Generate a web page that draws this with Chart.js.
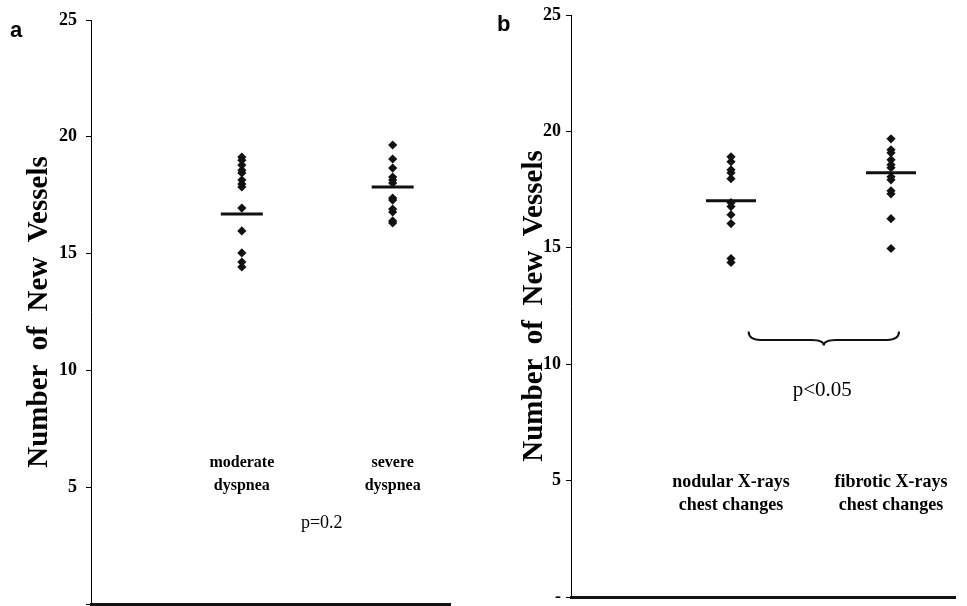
<!DOCTYPE html>
<html>
<head>
<meta charset="utf-8">
<script src="https://cdn.jsdelivr.net/npm/chart.js@4.4.1/dist/chart.umd.min.js"></script>
<style>
  html, body { margin: 0; padding: 0; background: #fff; }
  #wrap { position: relative; width: 967px; height: 606px; overflow: hidden; }
  .panel { position: absolute; top: 0; }
  #panelA { left: 0; }
  #panelB { left: 483px; }
  .tag { position: absolute; font: bold 22px "Liberation Sans", Arial, sans-serif; color: #000; line-height: 1; }
</style>
</head>
<body>
<div id="wrap">
  <div class="panel" id="panelA"><canvas id="chartA" width="483" height="606"></canvas></div>
  <div class="panel" id="panelB"><canvas id="chartB" width="484" height="606"></canvas></div>
  <div class="tag" style="left:10px;top:19px">a</div>
  <div class="tag" style="left:497px;top:13px">b</div>
</div>
<script>
// values
const panelACategories = [['moderate', 'dyspnea'], ['severe', 'dyspnea']];
const moderateDyspnea = [19.13, 19.0, 18.79, 18.57, 18.45, 18.15, 17.98, 17.85, 16.95, 15.97, 15.03, 14.64, 14.43];
const severeDyspnea = [19.65, 19.05, 18.66, 18.28, 18.15, 18.02, 17.38, 17.29, 16.91, 16.78, 16.4, 16.31];
const panelAMeans = [16.7, 17.85];

const panelBCategories = [['nodular X-rays', 'chest changes'], ['fibrotic X-rays', 'chest changes']];
const nodularChanges = [18.91, 18.7, 18.35, 18.22, 17.97, 16.94, 16.77, 16.42, 16.04, 14.54, 14.37];
const fibroticChanges = [19.68, 19.21, 19.08, 18.78, 18.57, 18.44, 18.05, 17.92, 17.45, 17.32, 16.25, 14.97];
const panelBMeans = [17.02, 18.22];

const yTicks = [0, 5, 10, 15, 20, 25];
const yTitle = 'Number  of  New  Vessels';
const panelAPValue = 'p=0.2';
const panelBPValue = 'p<0.05';

const SERIF = '"Liberation Serif", "Times New Roman", serif';

// category labels, p-value text and the brace, placed through the chart scales
const notesPlugin = {
  id: 'notes',
  afterDatasetsDraw(chart, args, opts) {
    const { ctx, scales: { x, y } } = chart;
    ctx.save();
    ctx.fillStyle = '#000';
    ctx.textAlign = 'center';
    ctx.textBaseline = 'middle';
    ctx.font = opts.labelFont;
    opts.categories.forEach((lines, i) => {
      lines.forEach((line, j) => {
        ctx.fillText(line, x.getPixelForValue(i + 1), y.getPixelForValue(opts.labelAt) + j * opts.lineGap);
      });
    });
    ctx.font = opts.pFont;
    ctx.fillText(opts.pText, x.getPixelForValue(opts.pAt[0]), y.getPixelForValue(opts.pAt[1]));

    if (opts.brace) {
      const x0 = x.getPixelForValue(opts.brace.from);
      const x1 = x.getPixelForValue(opts.brace.to);
      const xc = (x0 + x1) / 2;
      const top = y.getPixelForValue(opts.brace.at);
      const h = opts.brace.depth;
      const r = 12;
      ctx.strokeStyle = '#111';
      ctx.lineWidth = 2;
      ctx.beginPath();
      ctx.moveTo(x0, top);
      ctx.quadraticCurveTo(x0, top + h * 0.6, x0 + r, top + h * 0.6);
      ctx.lineTo(xc - r, top + h * 0.6);
      ctx.quadraticCurveTo(xc, top + h * 0.6, xc, top + h);
      ctx.quadraticCurveTo(xc, top + h * 0.6, xc + r, top + h * 0.6);
      ctx.lineTo(x1 - r, top + h * 0.6);
      ctx.quadraticCurveTo(x1, top + h * 0.6, x1, top);
      ctx.stroke();
    }
    ctx.restore();
  }
};

function makeChart(id, groups, means, cfg) {
  const points = [];
  groups.forEach((vals, i) => vals.forEach(v => points.push({ x: i + 1, y: v })));
  return new Chart(document.getElementById(id), {
    type: 'scatter',
    data: {
      datasets: [
        {
          data: points,
          pointStyle: 'rectRot',
          radius: 4.6,
          backgroundColor: '#111',
          borderWidth: 0
        },
        {
          data: means.map((m, i) => ({ x: i + 1, y: m })),
          pointStyle: 'line',
          radius: cfg.meanHalf,
          borderColor: '#111',
          borderWidth: 3
        }
      ]
    },
    options: {
      responsive: false,
      animation: false,
      events: [],
      layout: { padding: cfg.padding, autoPadding: false },
      plugins: {
        legend: { display: false },
        tooltip: { enabled: false },
        notes: cfg.notes
      },
      scales: {
        x: {
          type: 'linear',
          min: 0,
          max: cfg.xMax,
          ticks: { display: false },
          grid: { display: false, drawTicks: false },
          border: { display: true, color: '#111', width: 3 },
          afterFit: s => { s.height = 0; s.paddingLeft = 0; s.paddingRight = 0; }
        },
        y: {
          min: 0,
          max: 25,
          afterBuildTicks: s => { s.ticks = yTicks.map(v => ({ value: v })); },
          ticks: {
            color: '#000',
            padding: cfg.tickPad,
            font: { family: SERIF, size: 18, weight: 'bold' },
            callback: v => (v === 0 ? cfg.zeroLabel : v)
          },
          grid: { drawOnChartArea: false, tickLength: 5, color: '#000', lineWidth: 1 },
          border: { color: '#000', width: 1 },
          title: {
            display: true,
            text: yTitle,
            color: '#000',
            font: { family: SERIF, size: 29, weight: 'bold' },
            padding: { top: cfg.titlePad, bottom: 0 }
          },
          afterFit: s => { s.width = cfg.axisLeft; s.paddingTop = 0; s.paddingBottom = 0; }
        }
      }
    },
    plugins: [notesPlugin]
  });
}

makeChart('chartA', [moderateDyspnea, severeDyspnea], panelAMeans, {
  padding: { left: 0, right: 33, top: 20, bottom: 2 },
  axisLeft: 91,
  xMax: 2.38,
  meanHalf: 21,
  tickPad: 9,
  titlePad: 22,
  zeroLabel: '',
  notes: {
    categories: panelACategories,
    labelFont: 'bold 16px ' + SERIF,
    labelAt: 6.05,
    lineGap: 23,
    pFont: '18px ' + SERIF,
    pText: panelAPValue,
    pAt: [1.53, 3.45]
  }
});

makeChart('chartB', [nodularChanges, fibroticChanges], panelBMeans, {
  padding: { left: 0, right: 12, top: 15, bottom: 9 },
  axisLeft: 88,
  xMax: 2.4,
  meanHalf: 25,
  tickPad: 5,
  titlePad: 34,
  zeroLabel: '-',
  notes: {
    categories: panelBCategories,
    labelFont: 'bold 18px ' + SERIF,
    labelAt: 4.93,
    lineGap: 23,
    pFont: '21px ' + SERIF,
    pText: panelBPValue,
    pAt: [1.57, 8.88],
    brace: { from: 1.11, to: 2.05, at: 11.4, depth: 14 }
  }
});
</script>
</body>
</html>
